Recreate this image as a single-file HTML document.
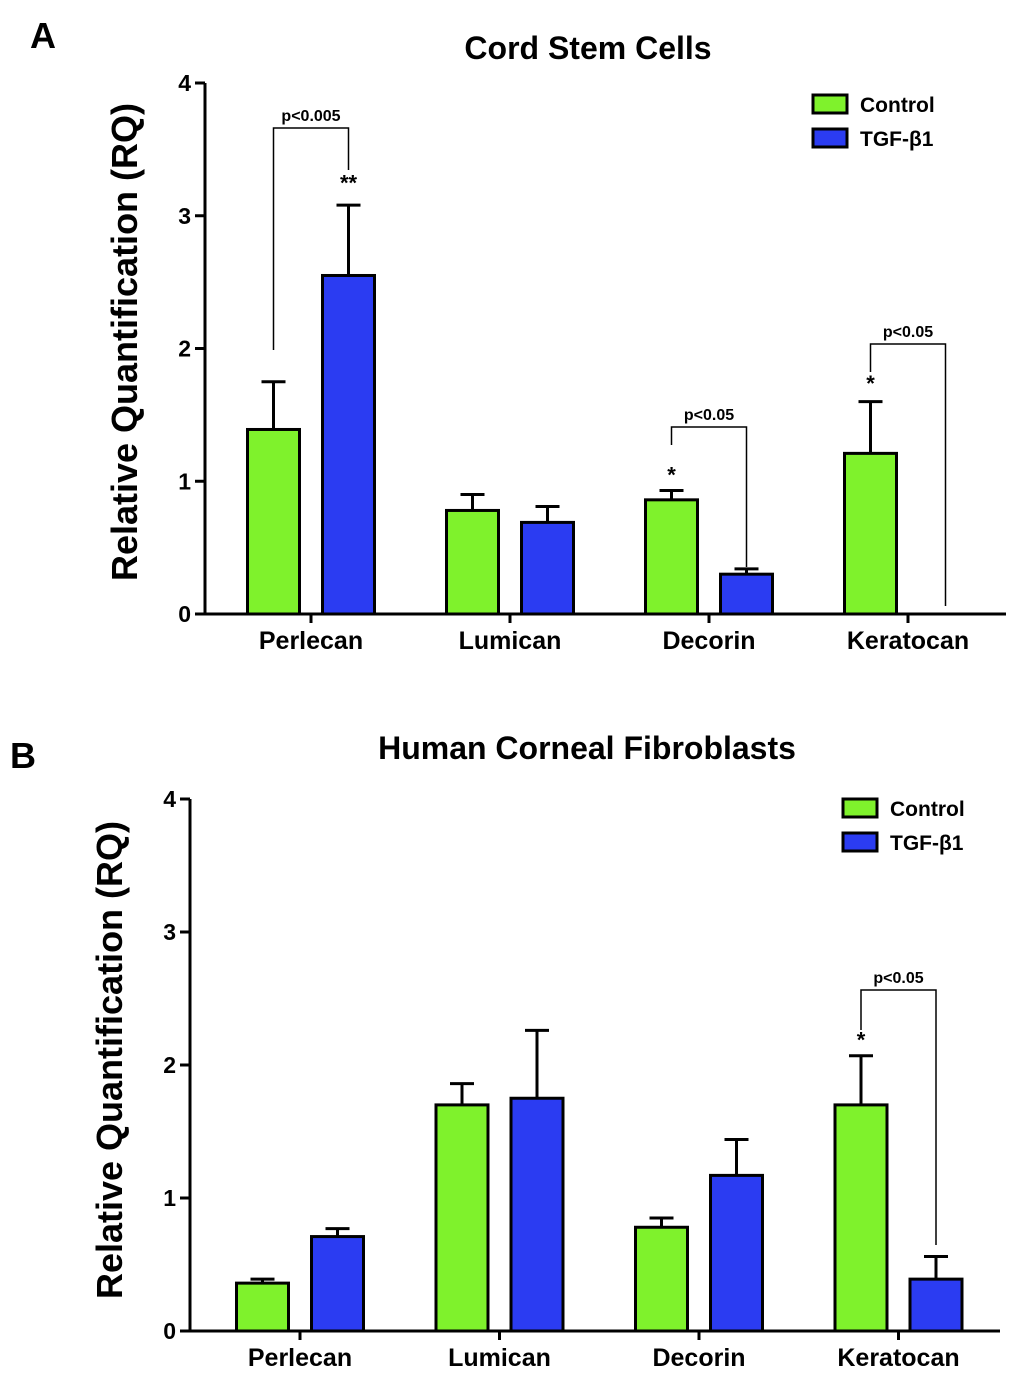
<!DOCTYPE html>
<html><head><meta charset="utf-8"><style>
html,body{margin:0;padding:0;background:#fff;}
svg{display:block;font-family:"Liberation Sans",sans-serif;}
</style></head><body>
<svg id="chart" width="1024" height="1382" viewBox="0 0 1024 1382"></svg>
<script>
const categories = ["Perlecan","Lumican","Decorin","Keratocan"];
const seriesNames = ["Control","TGF-β1"];
const yTicks = [0,1,2,3,4];
const aControl = [1.39,0.78,0.86,1.21];
const aControlErr = [0.36,0.12,0.07,0.39];
const aTgf = [2.55,0.69,0.30,0];
const aTgfErr = [0.53,0.12,0.04,0];
const bControl = [0.36,1.70,0.78,1.70];
const bControlErr = [0.03,0.16,0.07,0.37];
const bTgf = [0.71,1.75,1.17,0.39];
const bTgfErr = [0.06,0.51,0.27,0.17];

const NS="http://www.w3.org/2000/svg";
const svg=document.getElementById('chart');
function mk(tag,attrs,parent,text){const e=document.createElementNS(NS,tag);for(const k in attrs)e.setAttribute(k,attrs[k]);if(text!==undefined)e.textContent=text;(parent||svg).appendChild(e);return e;}
const GREEN="#7ff22c", BLUE="#2b3cf2";

function panel(cfg){
  const g=mk('g',{});
  
  
  const y=v=>cfg.y0-v*cfg.unit;
  const xc=i=>cfg.x0+cfg.first+i*cfg.band;
  const ya=mk('line',{x1:cfg.x0,y1:y(4),x2:cfg.x0,y2:cfg.y0+1.5,stroke:'#000','stroke-width':3},g);
  
  
  const xa=mk('line',{x1:cfg.x0-1.5,y1:cfg.y0,x2:cfg.xEnd,y2:cfg.y0,stroke:'#000','stroke-width':3},g);
  
  
  yTicks.forEach(t=>{
    mk('line',{x1:cfg.x0-10,y1:y(t),x2:cfg.x0,y2:y(t),stroke:'#000','stroke-width':3},g);
    const tl=mk('text',{x:cfg.x0-14,y:y(t)+8,'text-anchor':'end','font-size':23,'font-weight':'bold'},g,String(t));
    
    
  });
  categories.forEach((c,i)=>{
    mk('line',{x1:xc(i),y1:cfg.y0,x2:xc(i),y2:cfg.y0+9,stroke:'#000','stroke-width':3},g);
    const t=mk('text',{x:xc(i),y:cfg.y0+35,'text-anchor':'middle','font-size':25,'font-weight':'bold'},g,c);
    
    
    [[cfg.ctl,cfg.ctlErr,GREEN,-1],[cfg.tgf,cfg.tgfErr,BLUE,1]].forEach(([vals,errs,col,s])=>{
      const v=vals[i]; if(v<=0) return;
      const cx=xc(i)+s*37.5;
      mk('line',{x1:cx,y1:y(v),x2:cx,y2:y(v+errs[i]),stroke:'#000','stroke-width':3},g);
      mk('line',{x1:cx-12,y1:y(v+errs[i]),x2:cx+12,y2:y(v+errs[i]),stroke:'#000','stroke-width':3},g);
      const r=mk('rect',{x:cx-26,y:y(v),width:52,height:cfg.y0-y(v),fill:col,stroke:'#000','stroke-width':3},g);
      
      
    });
  });
  const ttl=mk('text',{x:cfg.titleX,y:cfg.titleY,'text-anchor':'middle','font-size':32,'font-weight':'bold'},g,cfg.title);
  
  
  const tx=cfg.x0-68, ty=cfg.titleMid;
  const lt=mk('text',{x:tx,y:ty,'text-anchor':'middle','font-size':36,'font-weight':'bold',transform:`rotate(-90 ${tx} ${ty})`},g,'Relative Quantification (RQ)');
  
  
  const pl=mk('text',{x:cfg.letterX,y:cfg.letterY,'font-size':36,'font-weight':'bold'},g,cfg.letter);
  
  
  seriesNames.forEach((n,k)=>{
    const ly=cfg.legY+k*34;
    const sw=mk('rect',{x:cfg.legX,y:ly,width:34,height:18,fill:k?BLUE:GREEN,stroke:'#000','stroke-width':3},g);
    
    
    const lt2=mk('text',{x:cfg.legX+47,y:ly+17,'font-size':21,'font-weight':'bold'},g,n);
    
    
  });
  cfg.brackets.forEach(b=>{
    const xl=xc(b.cat)-37.5, xr=xc(b.cat)+37.5;
    mk('polyline',{points:`${xl},${b.yl} ${xl},${b.top} ${xr},${b.top} ${xr},${b.yr}`,fill:'none',stroke:'#000','stroke-width':1.5},g);
    const t=mk('text',{x:(xl+xr)/2,y:b.top-7,'text-anchor':'middle','font-size':16,'font-weight':'bold'},g,b.label);
    
    
  });
  cfg.stars.forEach(s=>{
    const t=mk('text',{x:xc(s.cat)+s.side*37.5,y:y(s.v)-8,'text-anchor':'middle','font-size':22,'font-weight':'bold'},g,s.t);
    
    
  });
}
panel({name:'panel-a',x0:205,y0:614,unit:132.75,first:106,band:199,xEnd:1006,ctl:aControl,ctlErr:aControlErr,tgf:aTgf,tgfErr:aTgfErr,
 title:'Cord Stem Cells',titleX:588,titleY:59,titleMid:342,letter:'A',letterX:30,letterY:48,legX:813,legY:95,
 brackets:[{cat:0,top:128,yl:350,yr:170,label:'p<0.005'},{cat:2,top:427,yl:445,yr:567,label:'p<0.05'},{cat:3,top:344,yl:372,yr:606,label:'p<0.05'}],
 stars:[{cat:0,side:1,v:3.13,t:'**'},{cat:2,side:-1,v:0.93,t:'*'},{cat:3,side:-1,v:1.62,t:'*'}]});
panel({name:'panel-b',x0:190,y0:1331,unit:133,first:110,band:199.5,xEnd:1000,ctl:bControl,ctlErr:bControlErr,tgf:bTgf,tgfErr:bTgfErr,
 title:'Human Corneal Fibroblasts',titleX:587,titleY:759,titleMid:1060,letter:'B',letterX:10,letterY:768,legX:843,legY:799,
 brackets:[{cat:3,top:990,yl:1030,yr:1245,label:'p<0.05'}],
 stars:[{cat:3,side:-1,v:2.07,t:'*'}]});
</script>
</body></html>
